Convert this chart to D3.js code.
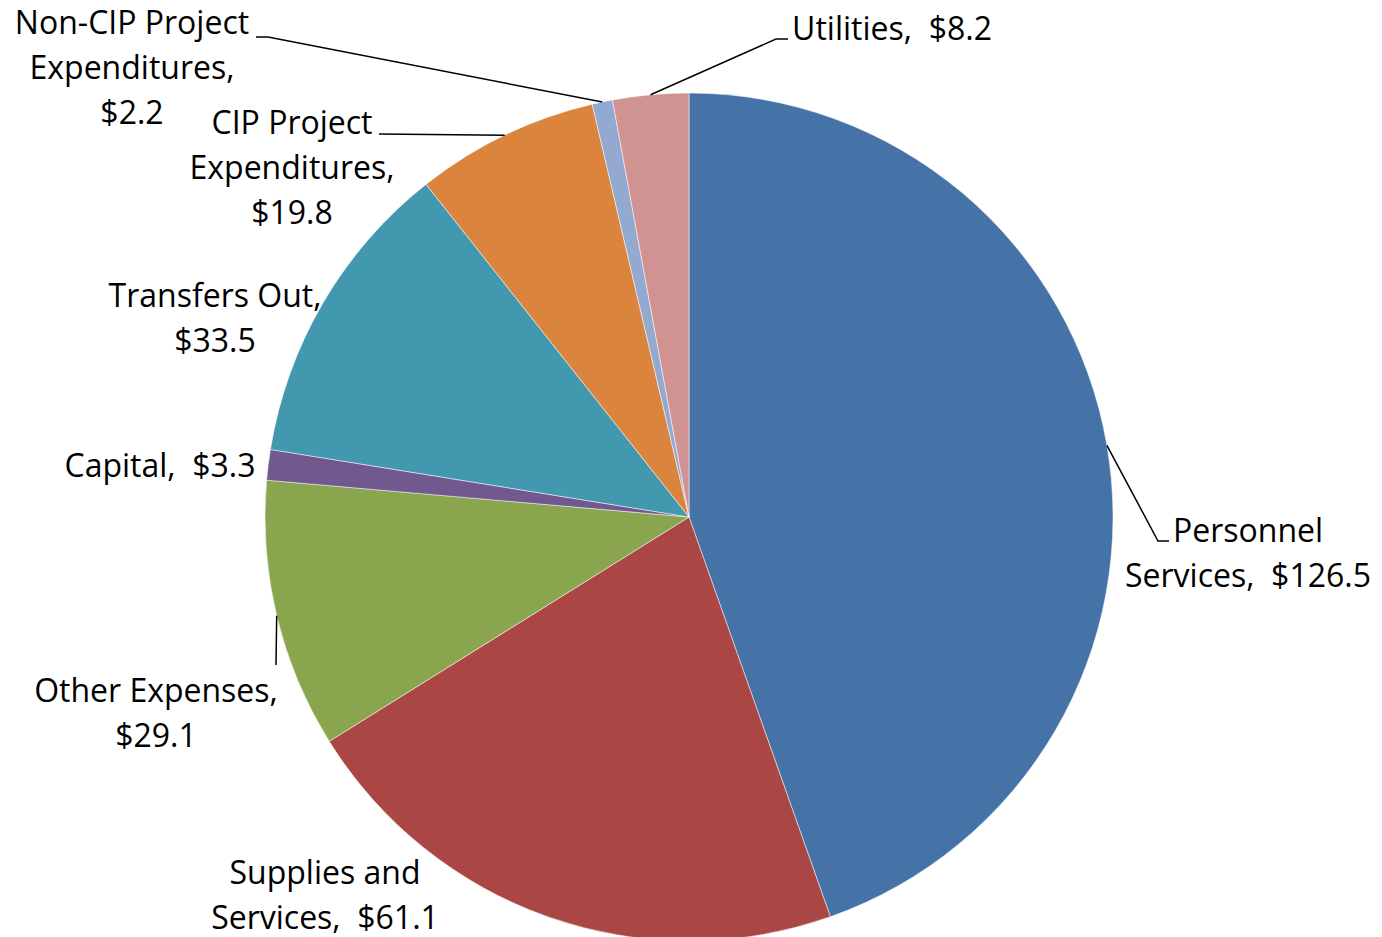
<!DOCTYPE html>
<html>
<head>
<meta charset="utf-8">
<script src="https://cdn.jsdelivr.net/npm/d3@7"></script>
<style>
  html, body { margin: 0; padding: 0; background: #ffffff; }
  svg { display: block; }
  text { font-family: "Open Sans", Lato, sans-serif; fill: #000; }
</style>
</head>
<body>
<svg id="chart" width="1382" height="937"></svg>
<script>
// ---- Data ----
const categories = [
  "Personnel Services",
  "Supplies and Services",
  "Other Expenses",
  "Capital",
  "Transfers Out",
  "CIP Project Expenditures",
  "Non-CIP Project Expenditures",
  "Utilities"
];
const values = [126.5, 61.1, 29.1, 3.3, 33.5, 19.8, 2.2, 8.2];
const colors = ["#4572A7", "#AA4643", "#89A54E", "#71588F", "#4198AF", "#DB843D", "#93A9CF", "#D19392"];

// Label text lines (name part) and whether the value sits on the last line
const labelNameLines = [
  ["Personnel", "Services,"],
  ["Supplies and", "Services,"],
  ["Other Expenses,"],
  ["Capital,"],
  ["Transfers Out,"],
  ["CIP Project", "Expenditures,"],
  ["Non-CIP Project", "Expenditures,"],
  ["Utilities,"]
];
const valueInline = [true, true, false, true, false, false, false, true];

// ---- Layout ----
const W = 1382, H = 937;
const cx = 689, cy = 517, R = 424;
const fontSize = 32, lineH = 45;

// label placement: center x, first-line center y; leader: list of points after the pie anchor
const labelLayout = [
  { x: 1248, y: 529, leader: [[1158, 541], [1169, 541]] },
  { x: 325,  y: 871, leader: null },
  { x: 156,  y: 689, leader: [[276, 665]] },
  { x: 160,  y: 464, leader: null },
  { x: 215,  y: 294, leader: null },
  { x: 292,  y: 121, leader: [[379, 134]] },
  { x: 132,  y: 21,  leader: [[268, 37], [256, 37]] },
  { x: 892,  y: 27,  leader: [[776, 39], [788, 39]] }
];

const svg = d3.select("#chart");
const g = svg.append("g").attr("transform", `translate(${cx},${cy})`);

const data = categories.map((c, i) => ({ name: c, value: values[i], i }));
const pie = d3.pie().value(d => d.value).sort(null);
const arcs = pie(data);
const arc = d3.arc().innerRadius(0).outerRadius(R);

g.selectAll("path.slice")
  .data(arcs)
  .enter().append("path")
  .attr("class", "slice")
  .attr("d", arc)
  .attr("fill", d => colors[d.data.i])
  .attr("stroke", "#ffffff")
  .attr("stroke-width", 1)
  .attr("stroke-opacity", 0.5);

const fmt = d3.format(".1f");

// leader lines
arcs.forEach(a => {
  const L = labelLayout[a.data.i];
  if (!L.leader) return;
  const mid = (a.startAngle + a.endAngle) / 2;
  const ax = cx + R * Math.sin(mid);
  const ay = cy - R * Math.cos(mid);
  const pts = [[ax, ay]].concat(L.leader);
  svg.append("path")
    .attr("d", d3.line()(pts))
    .attr("fill", "none")
    .attr("stroke", "#000")
    .attr("stroke-width", 1.5);
});

// labels
arcs.forEach(a => {
  const i = a.data.i;
  const L = labelLayout[i];
  const vStr = "$" + fmt(a.data.value);
  let lines = labelNameLines[i].slice();
  if (valueInline[i]) {
    lines[lines.length - 1] = lines[lines.length - 1] + "\u00A0\u00A0" + vStr;
  } else {
    lines.push(vStr);
  }
  const t = svg.append("text")
    .attr("text-anchor", "middle")
    .attr("font-size", fontSize);
  lines.forEach((ln, k) => {
    t.append("tspan")
      .attr("x", L.x)
      .attr("y", L.y + k * lineH)
      .attr("dominant-baseline", "central")
      .text(ln);
  });
});
</script>
</body>
</html>
